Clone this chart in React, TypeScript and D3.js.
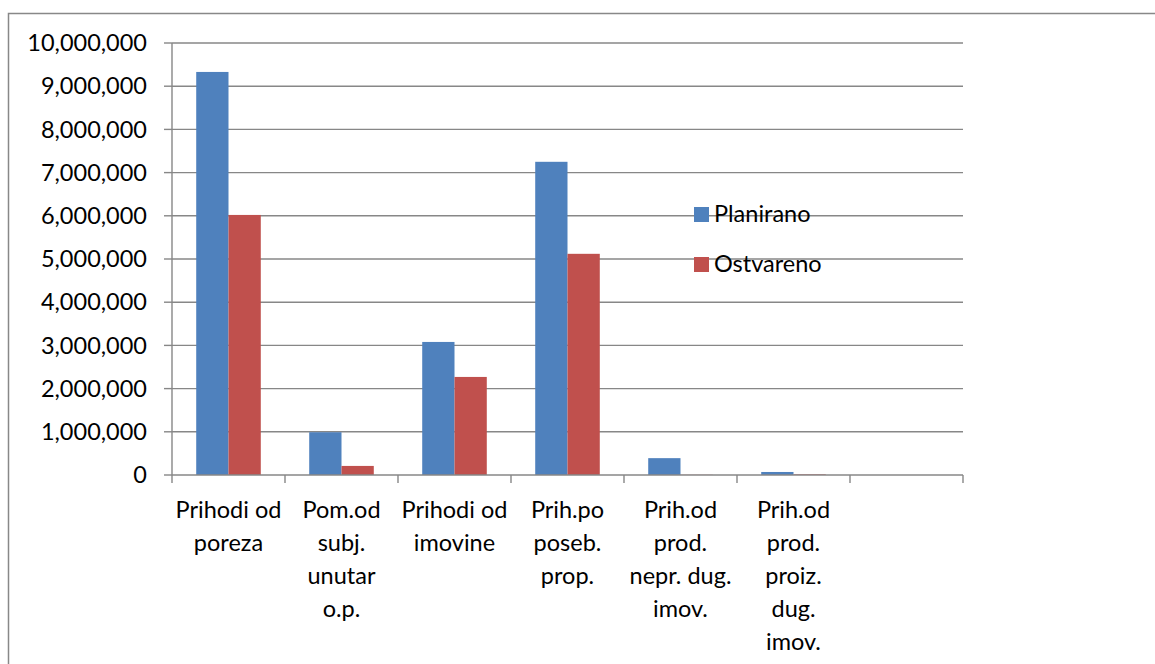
import { useEffect, useRef } from 'react'
import * as d3 from 'd3'

const categories = [
  ['Prihodi od', 'poreza'],
  ['Pom.od', 'subj.', 'unutar', 'o.p.'],
  ['Prihodi od', 'imovine'],
  ['Prih.po', 'poseb.', 'prop.'],
  ['Prih.od', 'prod.', 'nepr. dug.', 'imov.'],
  ['Prih.od', 'prod.', 'proiz.', 'dug.', 'imov.'],
  [],
]
const planirano = [9330000, 990000, 3080000, 7250000, 390000, 70000, null]
const ostvareno = [6020000, 210000, 2270000, 5120000, 5000, 15000, null]
const seriesNames = ['Planirano', 'Ostvareno']
const yTicks = [0, 1000000, 2000000, 3000000, 4000000, 5000000, 6000000, 7000000, 8000000, 9000000, 10000000]

const COLORS = ['#4F81BD', '#C0504D']
const GRID = '#878787'
const FONT = 'Lato, "Open Sans", sans-serif'
const FS = '23.5px'

export default function App() {
  const svgRef = useRef<SVGSVGElement>(null)

  useEffect(() => {
    const svg = d3.select(svgRef.current)
    svg.selectAll('*').remove()

    const left = 172
    const right = 963
    const top = 43
    const bottom = 475

    // chart frame
    svg.append('rect')
      .attr('x', 8.5).attr('y', 13.5)
      .attr('width', 1200).attr('height', 700)
      .attr('fill', '#fff')
      .attr('stroke', '#888').attr('stroke-width', 1.5)

    const idx = categories.map((_, i) => String(i))
    const x = d3.scaleBand().domain(idx).range([left, right]).paddingInner(0).paddingOuter(0)
    const y = d3.scaleLinear().domain([0, 10000000]).range([bottom, top])

    const g = svg.append('g')

    // gridlines
    g.selectAll('line.grid').data(yTicks.filter(t => t > 0)).enter().append('line')
      .attr('x1', left).attr('x2', right)
      .attr('y1', d => y(d)).attr('y2', d => y(d))
      .attr('stroke', GRID).attr('stroke-width', 1.4)

    // bars
    const barW = x.bandwidth() / 3.5
    const groups = [planirano, ostvareno]
    groups.forEach((vals, s) => {
      g.selectAll(`rect.s${s}`).data(vals.map((v, i) => ({ v, i }))).enter()
        .filter(d => d.v !== null)
        .append('rect')
        .attr('x', d => x(String(d.i))! + barW * 0.75 + s * barW)
        .attr('width', barW)
        .attr('y', d => y(d.v as number))
        .attr('height', d => bottom - y(d.v as number))
        .attr('fill', COLORS[s])
    })

    // y axis
    g.append('line').attr('x1', left).attr('x2', left).attr('y1', top).attr('y2', bottom)
      .attr('stroke', GRID).attr('stroke-width', 1.4)
    g.selectAll('line.ytick').data(yTicks).enter().append('line')
      .attr('x1', left - 8).attr('x2', left)
      .attr('y1', d => y(d)).attr('y2', d => y(d))
      .attr('stroke', GRID).attr('stroke-width', 1.4)
    const fmt = d3.format(',')
    g.selectAll('text.ylab').data(yTicks).enter().append('text')
      .attr('x', 147).attr('y', d => y(d))
      .attr('dy', '0.35em')
      .attr('text-anchor', 'end')
      .style('font-family', FONT).style('font-size', FS).style('fill', '#000')
      .text(d => fmt(d))

    // x axis
    g.append('line').attr('x1', left).attr('x2', right).attr('y1', bottom).attr('y2', bottom)
      .attr('stroke', GRID).attr('stroke-width', 1.4)
    const edges = idx.map(i => x(i)!).concat([right])
    g.selectAll('line.xtick').data(edges).enter().append('line')
      .attr('x1', d => d).attr('x2', d => d)
      .attr('y1', bottom).attr('y2', bottom + 8)
      .attr('stroke', GRID).attr('stroke-width', 1.4)

    categories.forEach((lines, i) => {
      const cx = x(String(i))! + x.bandwidth() / 2
      const t = g.append('text')
        .attr('text-anchor', 'middle')
        .style('font-family', FONT).style('font-size', FS).style('fill', '#000')
      lines.forEach((ln, j) => {
        t.append('tspan').attr('x', cx).attr('y', 518 + j * 33).text(ln)
      })
    })

    // legend
    const lg = g.append('g')
    seriesNames.forEach((name, s) => {
      const ly = 214 + s * 50
      lg.append('rect').attr('x', 694).attr('y', ly - 7).attr('width', 15).attr('height', 15)
        .attr('fill', COLORS[s])
      lg.append('text').attr('x', 714).attr('y', ly).attr('dy', '0.35em')
        .style('font-family', FONT).style('font-size', FS).style('fill', '#000')
        .text(name)
    })
  }, [])

  return (
    <div style={{ position: 'fixed', left: 0, top: 0, width: 1155, height: 664, background: '#fff' }}>
      <svg ref={svgRef} width={1155} height={664} style={{ display: 'block' }} />
    </div>
  )
}
